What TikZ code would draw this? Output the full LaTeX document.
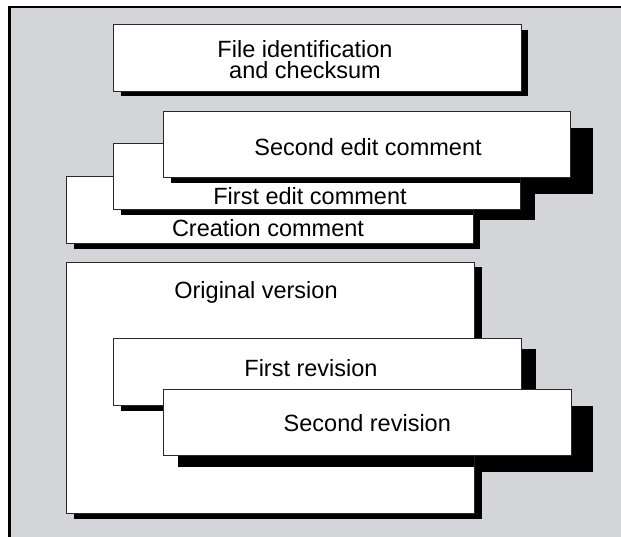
\documentclass[tikz,border=0pt]{standalone}
\usepackage{fontspec}
\setmainfont{Liberation Sans}
\usetikzlibrary{calc, fit}
\definecolor{panel-grey}{RGB}{212,213,216}
\definecolor{slab-edge}{RGB}{40,40,40}

\begin{document}
\begin{tikzpicture}[x=1pt, y=-1pt]
	\tikzset{slab/.style={draw=slab-edge, fill=white, line width=0.9pt, inner sep=0pt}}
	\tikzset{drop/.style={fill=black}}
	\tikzset{txt/.style={font=\fontsize{23.5}{21.4}\selectfont, inner sep=0pt, anchor=base}}

	\useasboundingbox (0,0) rectangle (621,537);
	\fill[white] (0,0) rectangle (621,537);
	\fill[panel-grey] (9,6.5) rectangle (621,537);
	\draw[line width=3pt] (9.3,537) -- (9.3,5.7);
	\draw[line width=2pt] (7.8,6.7) -- (621,6.7);

	% corners of the slabs
	\coordinate (fid-nw) at (113.3,24.7);   \coordinate (fid-se) at (521,91);
	\coordinate (crea-nw) at (66.7,176.7);  \coordinate (crea-se) at (473,243.3);
	\coordinate (fedit-nw) at (113.7,143.7); \coordinate (fedit-se) at (520,209.3);
	\coordinate (sedit-nw) at (163.3,111.7); \coordinate (sedit-se) at (570.7,177.3);
	\coordinate (orig-nw) at (66.7,262);    \coordinate (orig-se) at (474.3,513.3);
	\coordinate (rev1-nw) at (113.7,338.3); \coordinate (rev1-se) at (521,405);
	\coordinate (rev2-nw) at (163.5,389.3); \coordinate (rev2-se) at (571,455.7);

	% shadows on the panel
	\foreach \b/\h in {fid/1, crea/1, fedit/2, sedit/3, orig/1, rev1/2, rev2/3}
		\fill[drop] ($(\b-nw)+(\h*7.3,\h*5.5)$) rectangle ($(\b-se)+(\h*7.3,\h*5.5)$);

	% first level
	\node[slab, fit=(fid-nw)(fid-se)] (fid) {};
	\node[slab, fit=(crea-nw)(crea-se)] (crea) {};
	\node[slab, fit=(orig-nw)(orig-se)] (orig) {};
	\begin{scope}
		\clip (crea-nw) rectangle (crea-se);
		\fill[drop] ($(fedit-nw)+(7.3,5.5)$) rectangle ($(fedit-se)+(7.3,5.5)$);
	\end{scope}
	\begin{scope}
		\clip (orig-nw) rectangle (orig-se);
		\fill[drop] ($(rev1-nw)+(7.3,5.5)$) rectangle ($(rev1-se)+(7.3,5.5)$);
		\fill[drop] ($(rev2-nw)+(14.6,11)$) rectangle ($(rev2-se)+(14.6,11)$);
	\end{scope}

	% second level
	\node[slab, fit=(fedit-nw)(fedit-se)] (fedit) {};
	\node[slab, fit=(rev1-nw)(rev1-se)] (rev1) {};
	\begin{scope}
		\clip (fedit-nw) rectangle (fedit-se);
		\fill[drop] ($(sedit-nw)+(7.3,5.5)$) rectangle ($(sedit-se)+(7.3,5.5)$);
	\end{scope}

	% third level
	\node[slab, fit=(sedit-nw)(sedit-se)] (sedit) {};
	\node[slab, fit=(rev2-nw)(rev2-se)] (rev2) {};

	% labels
	\node[txt, align=center] (fid-txt) at (305,78.7) {File identification\\and checksum};
	\node[txt] (sedit-txt) at (368,156) {Second edit comment};
	\node[txt] (fedit-txt) at (310,205) {First edit comment};
	\node[txt] (crea-txt) at (268,236.7) {Creation comment};
	\node[txt] (orig-txt) at (256,298.3) {Original version};
	\node[txt] (rev1-txt) at (311,376.7) {First revision};
	\node[txt] (rev2-txt) at (367.3,431.7) {Second revision};
\end{tikzpicture}
\end{document}
